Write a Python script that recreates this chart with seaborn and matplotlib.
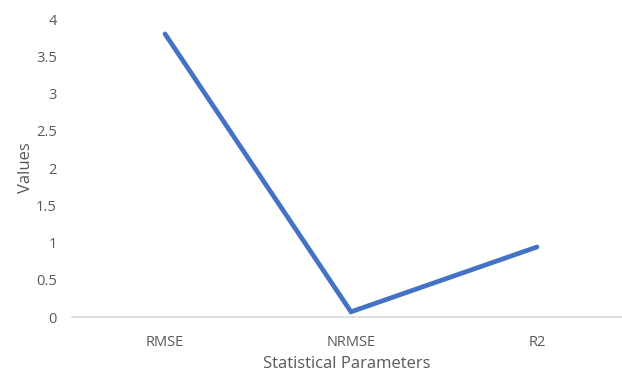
import matplotlib
matplotlib.use("Agg")
import matplotlib.pyplot as plt
import seaborn as sns
import pandas as pd
from matplotlib.ticker import FuncFormatter, MultipleLocator

params = ["RMSE", "NRMSE", "R2"]
values = [3.80, 0.07, 0.94]

df = pd.DataFrame({"Statistical Parameters": params, "Values": values})

sns.set_theme(style="white")
plt.rcParams["font.family"] = ["Open Sans", "DejaVu Sans"]

text_color = "#595959"
fig = plt.figure(figsize=(6.22, 3.72), dpi=100)
ax = fig.add_axes([0.1158, 0.1478, 0.8842, 0.8011])

sns.lineplot(data=df, x="Statistical Parameters", y="Values", ax=ax,
             color="#4472C4", linewidth=3.4, sort=False)
for line in ax.lines:
    line.set_solid_capstyle("round")
    line.set_solid_joinstyle("miter")

ax.set_ylim(0, 4)
ax.set_xlim(-0.5, 2.457)
ax.yaxis.set_major_locator(MultipleLocator(0.5))
ax.yaxis.set_major_formatter(FuncFormatter(lambda v, p: f"{v:g}"))

for side in ["left", "right", "top"]:
    ax.spines[side].set_visible(False)
ax.spines["bottom"].set_color("#D9D9D9")
ax.spines["bottom"].set_linewidth(1.2)

ax.tick_params(axis="both", length=0, colors=text_color, labelsize=10.5)
ax.tick_params(axis="y", pad=11)
ax.tick_params(axis="x", pad=13)
ax.set_xlabel("Statistical Parameters", color=text_color, fontsize=12, labelpad=4)
ax.set_ylabel("Values", color=text_color, fontsize=12, labelpad=1)
ax.grid(False)

fig.savefig("out.png", dpi=100)
